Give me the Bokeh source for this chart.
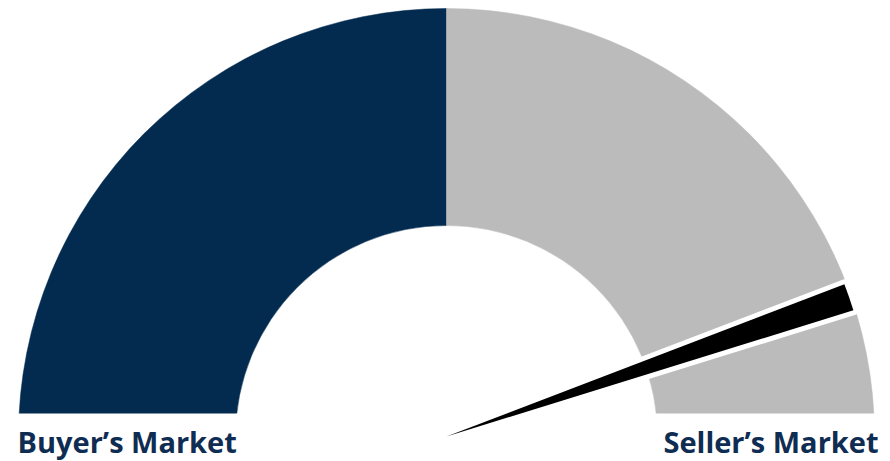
from bokeh.plotting import figure
from bokeh.models import Range1d
from bokeh.core.properties import value
from bokeh.embed import file_html
from bokeh.resources import INLINE
import math

# --- data ---
segments = ["Buyer's Market", "Seller's Market"]
segment_shares = [50, 50]          # percent of the gauge
segment_colors = ["#022b4f", "#bbbbbb"]
needle_value = 89.4                 # 0 = buyer extreme, 100 = seller extreme
labels = ["Buyer\u2019s Market", "Seller\u2019s Market"]

# --- geometry (pixel-like data units, y up) ---
W, H = 890, 461
cx, cy = 446, 25
R_out, R_in = 428, 211
cut_y = 48

p = figure(width=W, height=H, x_range=Range1d(0, W), y_range=Range1d(0, H),
           output_backend="svg", toolbar_location=None, min_border=0)
p.axis.visible = False
p.grid.visible = False
p.outline_line_color = None
p.background_fill_color = "white"
p.border_fill_color = "white"

# gauge segments (left to right from angle pi to 0)
total = sum(segment_shares)
start = math.pi
for share, col in zip(segment_shares, segment_colors):
    end = start - math.pi * share / total
    p.annular_wedge(x=[cx], y=[cy], inner_radius=R_in, outer_radius=R_out,
                    start_angle=[end], end_angle=[start], color=col, line_color=col,
                    line_width=0.5)
    start = end

# mask below the cut line
p.quad(left=[0], right=[900], bottom=[-50], top=[cut_y], fill_color="white", line_color=None)

# needle
ang = math.pi * (1 - needle_value / 100)
half = math.radians(1.85)
p.wedge(x=[cx], y=[cy], radius=R_out - 2, start_angle=[ang - half], end_angle=[ang + half],
        fill_color="white", line_color="white", line_width=10, line_join="round")
p.wedge(x=[cx], y=[cy], radius=R_out - 2, start_angle=[ang - half], end_angle=[ang + half],
        fill_color="black", line_color=None)

# labels
p.text(x=[17], y=[20.5], text=[labels[0]], text_font=value("Open Sans"), text_font_style="bold",
       text_font_size="29px", text_color="#0f2d52", text_baseline="alphabetic", text_align="left")
p.text(x=[878], y=[20.5], text=[labels[1]], text_font=value("Open Sans"), text_font_style="bold",
       text_font_size="29px", text_color="#0f2d52", text_baseline="alphabetic", text_align="right")

open("out.html", "w").write(file_html(p, INLINE))
